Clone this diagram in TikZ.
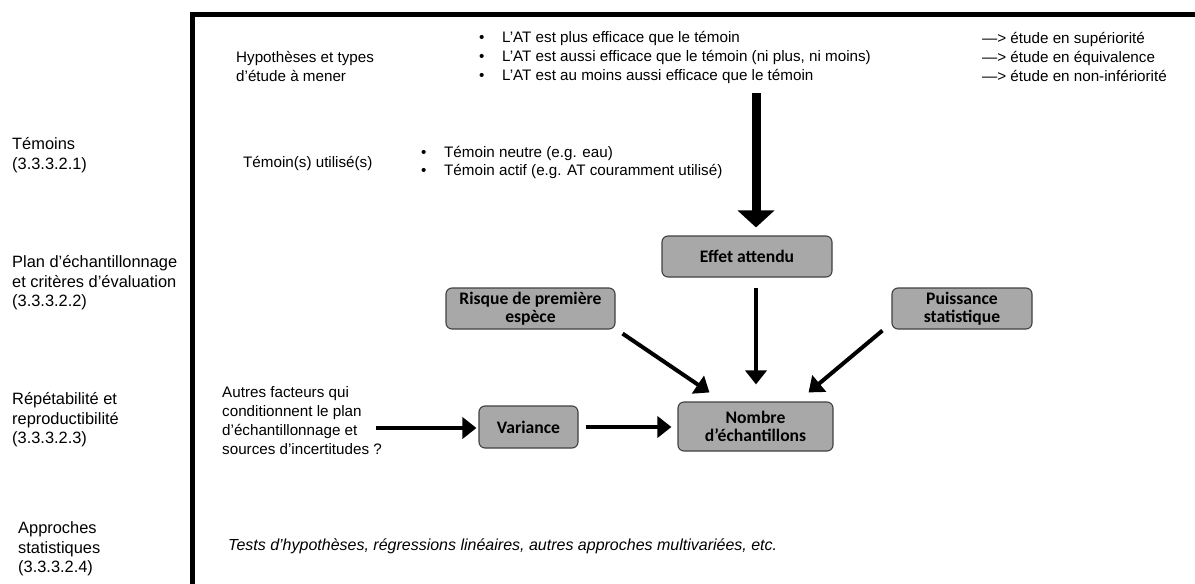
\documentclass[tikz,border=0pt]{standalone}
\usepackage{fontspec}
\setmainfont{Liberation Sans}
\newfontfamily\boxfont{Carlito}
\usetikzlibrary{arrows.meta}
\tikzset{
  txt/.style={anchor=west, inner sep=0pt, align=left, font=\fontsize{15.2}{19}\selectfont},
  lbl/.style={txt, font=\fontsize{16.4}{19.5}\selectfont},
  gbox/.style={draw=black!75, line width=1.1pt, fill=black!34, rounded corners=6pt, align=center,
    font=\boxfont\bfseries\fontsize{17.6}{18.5}\selectfont, inner sep=0pt},
  arr/.style={line width=4pt, -{Triangle[width=21pt,length=14pt]}},
  bigarr/.style={line width=9pt, -{Triangle[width=36pt,length=17pt]}},
  frame/.style={line width=5pt}
}
\newcommand{\bul}{\makebox[23pt][l]{\textbullet}}
\begin{document}
\begin{tikzpicture}[x=1pt,y=-1pt]
\useasboundingbox (0,0) rectangle (1195,584);
% frame
\draw[frame] (192.5,586) -- (192.5,14.5) -- (1195,14.5);

% left labels
\node[lbl] (l1) at (12,155) {Témoins\\(3.3.3.2.1)};
\node[lbl] (l2) at (12,283) {Plan d’échantillonnage\\et critères d’évaluation\\(3.3.3.2.2)};
\node[lbl] (l3) at (12,420) {Répétabilité et\\reproductibilité\\(3.3.3.2.3)};
\node[lbl] (l4) at (18,549) {Approches\\statistiques\\(3.3.3.2.4)};

% top texts
\node[txt] (hyp) at (236,66.5) {Hypothèses et types\\d'étude à mener};
\node[txt] (hypb) at (479,57) {\bul L’AT est plus efficace que le témoin\\
  \bul L’AT est aussi efficace que le témoin (ni plus, ni moins)\\
  \bul L’AT est au moins aussi efficace que le témoin};
\node[txt] (typ) at (982,57) {—> étude en supériorité\\—> étude en équivalence\\—> étude en non-infériorité};

\node[txt] (tem) at (243,163) {Témoin(s) utilisé(s)};
\node[txt,font=\fontsize{15.2}{18}\selectfont] (temb) at (421,162) {\bul Témoin neutre (e.g. eau)\\\bul Témoin actif (e.g. AT couramment utilisé)};

\node[txt] (aut) at (222,421) {Autres facteurs qui\\conditionnent le plan\\d'échantillonnage et\\sources d'incertitudes ?};

\node[txt,font=\fontsize{16}{19}\selectfont\itshape] (tests) at (228,546) {Tests d’hypothèses, régressions linéaires, autres approches multivariées, etc.};

% boxes
\node[gbox, minimum width=170pt, minimum height=41pt] (eff) at (747,256.5) {Effet attendu};
\node[gbox, minimum width=169pt, minimum height=41pt] (risk) at (530.5,308.5) {Risque de première\\espèce};
\node[gbox, minimum width=140pt, minimum height=41pt] (puis) at (962,308.5) {Puissance\\statistique};
\node[gbox, minimum width=155pt, minimum height=49pt] (nomb) at (755.5,426.5) {Nombre\\d’échantillons};
\node[gbox, minimum width=99pt, minimum height=42pt] (var) at (528.5,427) {Variance};

% arrows
\coordinate (bigtop) at (756,93);
\draw[bigarr] (bigtop) -- (bigtop |- eff.north) [shorten >=8pt];
\coordinate (effout) at (756,277);
\draw[arr, shorten <=11pt, shorten >=17pt] (effout) -- (effout |- nomb.north);
\draw[arr] ([shift={(7,4)}]risk.south east) -- ([shift={(32,-9)}]nomb.north west);
\draw[arr] ([shift={(-9,1)}]puis.south west) -- ([shift={(-25,-9)}]nomb.north east);
\draw[arr, shorten <=7pt, shorten >=6pt] (var.east) -- (var.east -| nomb.west);
\coordinate (autout) at (376,428);
\draw[arr, shorten >=2pt] (autout) -- (autout -| var.west);
\end{tikzpicture}
\end{document}
